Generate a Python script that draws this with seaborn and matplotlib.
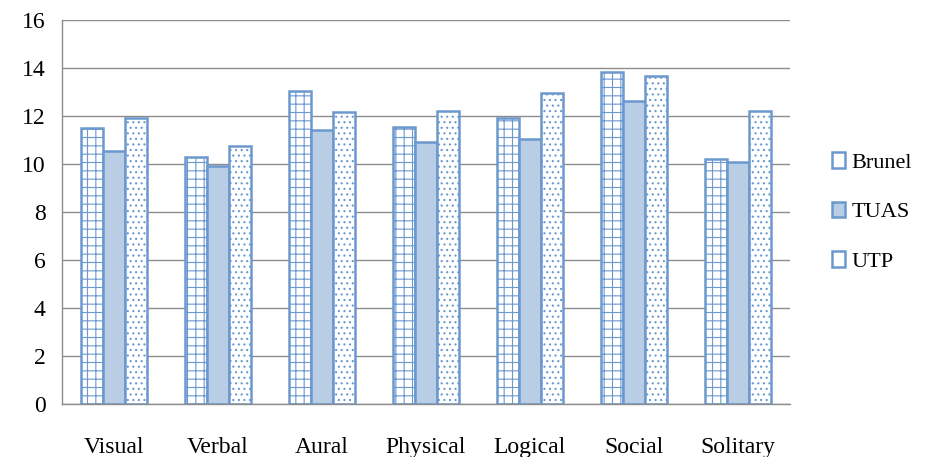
import pandas as pd
import seaborn as sns
import matplotlib.pyplot as plt

categories = ['Visual', 'Verbal', 'Aural', 'Physical', 'Logical', 'Social', 'Solitary']
brunel = [11.5, 10.3, 13.05, 11.55, 11.9, 13.85, 10.2]
tuas = [10.55, 9.9, 11.42, 10.92, 11.05, 12.62, 10.1]
utp = [11.93, 10.75, 12.17, 12.22, 12.97, 13.65, 12.2]
groups = ['Brunel', 'TUAS', 'UTP']

df = pd.DataFrame({'cat': categories * 3,
                   'val': brunel + tuas + utp,
                   'grp': [g for g in groups for _ in categories]})

sns.set_style('white')
plt.rcParams['font.family'] = ['Liberation Serif', 'DejaVu Serif']
plt.rcParams['hatch.linewidth'] = 0.8
plt.rcParams['text.color'] = 'black'
plt.rcParams['xtick.labelcolor'] = 'black'
plt.rcParams['ytick.labelcolor'] = 'black'

fig = plt.figure(figsize=(9.26, 4.57), dpi=100)
ax = fig.add_axes([0.067, 0.116, 0.786, 0.84])

edge = '#6a98cf'
fills = ['white', '#b9cde5', 'white']
hatches = ['++', '', '...']

sns.barplot(data=df, x='cat', y='val', hue='grp', ax=ax, width=0.64,
            palette=fills, gap=0, edgecolor=edge, linewidth=1.8, saturation=1)

for cont, h in zip(ax.containers, hatches):
    for bar in cont:
        bar.set_hatch(h)
        bar.set_edgecolor(edge)

ax.set_ylim(0, 16)
ax.set_xlim(-0.5, len(categories) - 0.5)
ax.set_yticks(range(0, 17, 2))
ax.yaxis.grid(True, color='#8c8c8c', linewidth=1)
ax.set_axisbelow(True)
for s in ['top', 'right']:
    ax.spines[s].set_visible(False)
for s in ['left', 'bottom']:
    ax.spines[s].set_color('#8c8c8c')
    ax.spines[s].set_linewidth(1)

ax.set_xticks([i - 0.5 for i in range(len(categories) + 1)], minor=True)
ax.tick_params(axis='x', which='minor', length=6, color='#8c8c8c', direction='out')
ax.tick_params(axis='x', which='major', length=0, pad=24, labelsize=17, labelcolor='black')
ax.tick_params(axis='y', length=6, color='#8c8c8c', direction='out', labelsize=17,
               pad=6, labelcolor='black')
ax.set_xlabel('')
ax.set_ylabel('')

handles, labels = ax.get_legend_handles_labels()
ax.legend(handles, labels, loc='center left', bbox_to_anchor=(1.03, 0.5),
          frameon=False, fontsize=16, handlelength=0.6, handleheight=0.7,
          labelspacing=1.3, handletextpad=0.3)

fig.savefig('out.png', dpi=100)
